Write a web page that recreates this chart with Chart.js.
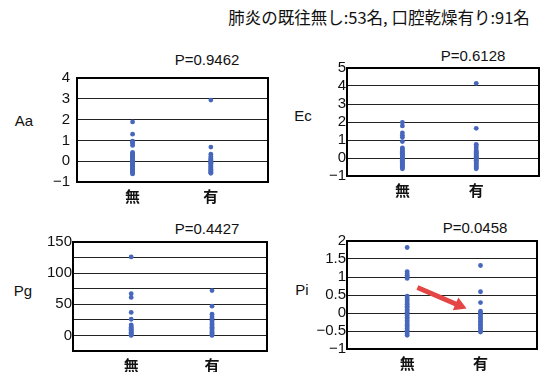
<!DOCTYPE html>
<html>
<head>
<meta charset="utf-8">
<script src="https://cdn.jsdelivr.net/npm/chart.js@4.4.1/dist/chart.umd.min.js"></script>
<style>
  body { margin: 0; background: #fff; width: 549px; height: 372px; position: relative; overflow: hidden;
         font-family: "Liberation Sans", Arial, sans-serif; color: #111; }
  canvas { position: absolute; }
  .txt { position: absolute; white-space: nowrap; transform: translate(-50%, -50%); }
  .cjk { font-family: "Noto Sans CJK JP", sans-serif; }
</style>
</head>
<body>
<div class="txt cjk" style="left:379px;top:17px;font-size:16.5px;">肺炎の既往無し:53名, 口腔乾燥有り:91名</div>

<div class="txt" style="left:207px;top:59px;font-size:15px;">P=0.9462</div>
<div class="txt" style="left:473px;top:55px;font-size:15px;">P=0.6128</div>
<div class="txt" style="left:207px;top:228px;font-size:15px;">P=0.4427</div>
<div class="txt" style="left:475px;top:227px;font-size:15px;">P=0.0458</div>

<div class="txt" style="left:24px;top:120px;font-size:15px;">Aa</div>
<div class="txt" style="left:303px;top:115px;font-size:15px;">Ec</div>
<div class="txt" style="left:23px;top:290px;font-size:15px;">Pg</div>
<div class="txt" style="left:302px;top:289px;font-size:15px;">Pi</div>

<canvas id="chartAa"></canvas>
<canvas id="chartEc"></canvas>
<canvas id="chartPg"></canvas>
<canvas id="chartPi"></canvas>

<script>
// categorias del eje x
const groups = ["無", "有"];

// valores (無 / 有)
const aaNone = [1.89, 1.30, 0.96, 0.90, 0.84, 0.76, 0.42, 0.37, 0.33, 0.29, 0.24, 0.20, 0.17, 0.13, 0.10, 0.06, 0.03, 0.01, -0.03, -0.06, -0.09, -0.13, -0.16, -0.20, -0.23, -0.27, -0.30, -0.34, -0.38, -0.41, -0.45, -0.49, -0.53, -0.57, -0.61];
const aaYes = [2.94, 0.68, 0.34, 0.22, 0.15, 0.11, 0.07, 0.03, -0.01, -0.05, -0.10, -0.14, -0.18, -0.23, -0.27, -0.31, -0.36, -0.40, -0.44, -0.49, -0.53, -0.58];

const ecNone = [1.98, 1.78, 1.40, 1.27, 1.15, 0.91, 0.56, 0.50, 0.44, 0.38, 0.32, 0.26, 0.21, 0.16, 0.11, 0.06, 0.02, -0.03, -0.08, -0.13, -0.18, -0.23, -0.29, -0.34, -0.40, -0.45, -0.51, -0.56, -0.60];
const ecYes = [4.15, 1.65, 0.76, 0.66, 0.56, 0.42, 0.36, 0.30, 0.25, 0.19, 0.14, 0.09, 0.04, -0.01, -0.06, -0.12, -0.17, -0.22, -0.28, -0.33, -0.39, -0.44, -0.50, -0.55, -0.60];

const pgNone = [126, 67, 61, 37, 26, 17, 15, 13, 11, 10, 8, 7, 5, 4, 3, 1, 0];
const pgYes = [72, 47, 34, 30, 27, 24, 22, 19, 17, 15, 13, 11, 9, 7, 5, 3, 1, 0];

const piNone = [1.82, 1.15, 1.10, 1.05, 1.00, 0.96, 0.47, 0.42, 0.37, 0.33, 0.28, 0.24, 0.19, 0.15, 0.10, 0.06, 0.02, -0.03, -0.07, -0.12, -0.16, -0.21, -0.25, -0.30, -0.34, -0.39, -0.43, -0.48, -0.52, -0.57, -0.62];
const piYes = [1.32, 0.59, 0.29, 0.05, 0.01, -0.04, -0.08, -0.13, -0.17, -0.22, -0.26, -0.31, -0.35, -0.40, -0.44, -0.49, -0.53];

// flecha roja en el panel Pi (inicio, fin)
const arrowX = [1.14, 1.71];
const arrowY = [0.71, 0.21];

const dotColor = "#4767bd";
const yAxisW = 60;
const xAxisH = 30;
const padTop = 10;
const padRight = 4;

// marco negro alrededor del area del grafico
const framePlugin = {
  id: "frame",
  afterDraw(chart) {
    const a = chart.chartArea;
    const c = chart.ctx;
    c.save();
    c.strokeStyle = "#000";
    c.lineWidth = 2;
    c.strokeRect(a.left, a.top, a.right - a.left, a.bottom - a.top);
    c.restore();
  },
};

function toPoints(vals, x) {
  return vals.map((v) => ({ x: x, y: v }));
}

function makePanel(id, cfg) {
  const el = document.getElementById(id);
  const w = cfg.right - cfg.left + yAxisW + padRight;
  const h = cfg.bottom - cfg.top + xAxisH + padTop;
  el.width = w;
  el.height = h;
  el.style.left = cfg.left - yAxisW + "px";
  el.style.top = cfg.top - padTop + "px";
  el.style.width = w + "px";
  el.style.height = h + "px";

  const datasets = [
    { data: toPoints(cfg.none, 1), backgroundColor: dotColor, pointRadius: 2.4, pointBorderWidth: 0, showLine: false },
    { data: toPoints(cfg.yes, 2), backgroundColor: dotColor, pointRadius: 2.4, pointBorderWidth: 0, showLine: false },
  ];
  if (cfg.arrow) datasets.push(cfg.arrow);

  return new Chart(el.getContext("2d"), {
    type: "scatter",
    data: { datasets: datasets },
    options: {
      responsive: false,
      animation: false,
      layout: { padding: { top: padTop, right: padRight, left: 0, bottom: 0 } },
      plugins: { legend: { display: false }, tooltip: { enabled: false } },
      scales: {
        x: {
          type: "linear",
          min: cfg.xMin,
          max: cfg.xMax,
          afterBuildTicks: (axis) => { axis.ticks = [{ value: 1 }, { value: 2 }]; },
          afterFit: (axis) => { axis.height = xAxisH; },
          grid: { display: false },
          border: { display: false },
          ticks: {
            padding: -3,
            color: "#111",
            autoSkip: false,
            maxRotation: 0,
            font: { family: "'Noto Sans CJK JP'", size: 15, weight: "bold" },
            callback: (v) => groups[v - 1],
          },
        },
        y: {
          min: cfg.yMin,
          max: cfg.yMax,
          afterFit: (axis) => { axis.width = yAxisW; },
          grid: { color: "#222", lineWidth: 1, drawTicks: false },
          border: { display: false },
          ticks: {
            stepSize: cfg.step,
            padding: cfg.tickPad,
            autoSkip: false,
            color: "#111",
            font: { family: "'Liberation Sans', Arial", size: 15 },
            callback: cfg.tickLabel || ((v) => String(v).replace("-", "−")),
          },
        },
      },
    },
    plugins: [framePlugin],
  });
}

makePanel("chartAa", { left: 77, right: 268, top: 72, bottom: 182, yMin: -1, yMax: 4, step: 1, tickPad: 7, xMin: 0.29, xMax: 2.73, none: aaNone, yes: aaYes });
makePanel("chartEc", { left: 347, right: 539, top: 68, bottom: 176, yMin: -1, yMax: 5, step: 1, tickPad: 1, xMin: 0.25, xMax: 2.85, none: ecNone, yes: ecYes });
makePanel("chartPg", {
  left: 73, right: 267, top: 242, bottom: 351, yMin: -25, yMax: 150, step: 25, tickPad: 1, xMin: 0.28, xMax: 2.68,
  none: pgNone, yes: pgYes,
  tickLabel: (v) => (v >= 0 && v % 50 === 0 ? String(v) : ""),
});

const arrowDataset = {
  type: "line",
  data: arrowX.map((x, i) => ({ x: x, y: arrowY[i] })),
  borderColor: "#e44646",
  backgroundColor: "#e44646",
  borderWidth: 5,
  showLine: true,
  pointStyle: "triangle",
  pointRadius: [0, 8],
  pointBorderWidth: 0,
  pointRotation: (ctx) => {
    const sx = ctx.chart.scales.x;
    const sy = ctx.chart.scales.y;
    const dx = sx.getPixelForValue(arrowX[1]) - sx.getPixelForValue(arrowX[0]);
    const dy = sy.getPixelForValue(arrowY[1]) - sy.getPixelForValue(arrowY[0]);
    return (Math.atan2(dy, dx) * 180) / Math.PI + 90;
  },
};

makePanel("chartPi", {
  left: 347, right: 541, top: 241, bottom: 349, yMin: -1, yMax: 2, step: 0.5, tickPad: 1, xMin: 0.18, xMax: 2.77,
  none: piNone, yes: piYes, arrow: arrowDataset,
});
</script>
</body>
</html>
